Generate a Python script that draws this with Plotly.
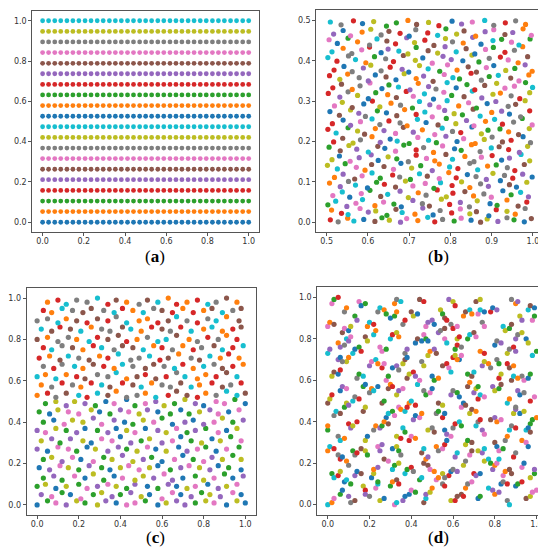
import plotly.graph_objects as go

TAB10 = ['#1f77b4', '#ff7f0e', '#2ca02c', '#d62728', '#9467bd',
         '#8c564b', '#e377c2', '#7f7f7f', '#bcbd22', '#17becf']

# (a) regular grid: column positions and row heights
a_x = [0.000, 0.029, 0.059, 0.088, 0.118, 0.147, 0.176, 0.206, 0.235, 0.265, 0.294, 0.324,
       0.353, 0.382, 0.412, 0.441, 0.471, 0.500, 0.529, 0.559, 0.588, 0.618, 0.647, 0.676,
       0.706, 0.735, 0.765, 0.794, 0.824, 0.853, 0.882, 0.912, 0.941, 0.971, 1.000]
a_y = [0.000, 0.053, 0.105, 0.158, 0.211, 0.263, 0.316, 0.368, 0.421, 0.474,
       0.526, 0.579, 0.632, 0.684, 0.737, 0.789, 0.842, 0.895, 0.947, 1.000]

# (b) scattered points in [0.5, 1] x [0, 0.5]
b_x = [
    .509, .528, .551, .566, .590, .617, .634, .652, .679, .694, .721, .745, .762, .781, .809, .826, .850, .873, .889, .915, .937, .954, .979, .996,
    .512, .536, .552, .581, .601, .619, .646, .668, .683, .714, .733, .758, .775, .803, .824, .847, .863, .893, .911, .937, .957, .981,
    .503, .522, .549, .571, .587, .617, .638, .663, .681, .709, .732, .749, .778, .798, .824, .846, .865, .896, .913, .937, .964, .985,
    .515, .538, .556, .584, .605, .631, .648, .678, .698, .722, .741, .768, .790, .806, .835, .856, .881, .899, .927, .947, .970, .989,
    .507, .533, .553, .570, .599, .621, .640, .667, .691, .709, .739, .760, .776, .804, .827, .847, .873, .892, .921, .943, .960, .985,
    .519, .540, .568, .586, .610, .630, .660, .677, .703, .725, .744, .773, .796, .814, .841, .862, .887, .903, .931, .951, .975, .998,
    .502, .526, .545, .572, .593, .609, .639, .662, .680, .706, .728, .756, .773, .798, .818, .847, .866, .890, .911, .938, .956, .979,
    .513, .531, .557, .579, .608, .625, .649, .670, .698, .717, .742, .762, .789, .805, .835, .857, .875, .901, .924, .943, .971, .992,
    .506, .533, .554, .573, .601, .624, .641, .667, .687, .717, .735, .759, .781, .810, .826, .851, .872, .899, .918, .941, .967, .987,
    .517, .539, .564, .582, .610, .630, .654, .671, .700, .721, .747, .766, .789, .816, .832, .860, .882, .901, .926, .947, .976, .994,
    .503, .523, .552, .575, .592, .618, .639, .667, .686, .710, .732, .762, .780, .805, .825, .852, .875, .891, .920, .941, .965, .991,
    .514, .540, .558, .582, .610, .629, .651, .678, .695, .720, .741, .770, .790, .813, .839, .857, .885, .907, .926, .953, .974, .998,
    .508, .531, .558, .578, .594, .623, .645, .670, .689, .717, .738, .756, .786, .809, .829, .855, .872, .900, .924, .943, .970, .992,
    .519, .538, .562, .590, .611, .629, .656, .679, .708, .725, .750, .772, .792, .820, .844, .863, .889, .910, .940, .958, .981,
    .504, .532, .552, .575, .601, .619, .648, .669, .693, .710, .737, .759, .784, .803, .833, .853, .876, .903, .921, .947, .968, .992,
    .515, .536, .562, .581, .605, .634, .651, .674, .702, .722, .747, .765, .792, .814, .840, .859, .883, .912, .932, .955, .982, .999,
    .507, .532, .551, .579, .601, .618, .644, .668, .688, .717, .735, .758, .785, .806, .822, .850, .875, .894, .916, .946, .966, .990,
    .518, .542, .562, .589, .607, .632, .654, .683, .699, .725, .746, .774, .793, .816, .843, .863, .887, .905, .934, .956, .981, .998,
    .503, .525, .553, .570, .595, .616, .643, .662, .686, .715, .733, .756, .782, .802, .830, .852, .869, .894, .921, .940, .964, .987,
    .513, .540, .561, .585, .604, .632, .649, .675, .697, .717, .746, .769, .787, .814, .838, .859, .885, .904, .932, .955, .975,
    .506, .526, .552, .575, .604, .622, .646, .667, .694, .713, .738, .760, .788, .805, .831, .854, .874, .903, .924, .948, .966, .993,
    .517, .540, .558, .586, .607, .632, .651, .678, .700, .716, .745, .769, .789, .815, .833, .861, .884, .905, .932, .951, .976, .996,
    .509, .535, .565, .587, .614, .645, .669, .697, .718, .747, .772, .804, .827, .853, .883, .905, .933, .958, .982,
]
b_y = [
    .006, .001, .010, .003, .007, .002, .011, .005, .000, .009, .004, .012, .001, .007, .003, .010, .005, .000, .008, .002, .011, .006, .001, .009,
    .030, .022, .019, .034, .025, .028, .017, .032, .024, .020, .035, .018, .029, .023, .033, .021, .026, .016, .031, .027, .020, .034,
    .043, .052, .039, .047, .056, .041, .050, .045, .038, .054, .046, .040, .057, .044, .049, .038, .053, .046, .042, .055, .040, .050,
    .066, .075, .062, .071, .079, .064, .069, .077, .061, .073, .067, .080, .063, .072, .076, .065, .070, .062, .078, .068, .074, .063,
    .097, .088, .101, .092, .085, .099, .094, .087, .102, .090, .096, .084, .098, .091, .100, .086, .095, .089, .103, .093, .087, .099,
    .111, .119, .107, .115, .122, .109, .117, .112, .106, .120, .114, .108, .123, .110, .118, .113, .106, .121, .116, .109, .119, .112,
    .141, .132, .145, .136, .129, .143, .138, .131, .146, .134, .140, .128, .144, .137, .133, .146, .130, .139, .142, .135, .128, .143,
    .155, .164, .151, .160, .167, .153, .162, .157, .150, .166, .158, .152, .168, .156, .163, .150, .161, .165, .154, .159, .168, .152,
    .186, .177, .190, .181, .174, .188, .183, .176, .191, .179, .185, .173, .189, .182, .178, .192, .175, .184, .187, .180, .173, .188,
    .199, .208, .196, .204, .212, .198, .206, .201, .195, .210, .203, .197, .213, .200, .207, .195, .205, .211, .199, .203, .212, .197,
    .230, .221, .234, .226, .218, .232, .227, .220, .235, .223, .229, .217, .233, .225, .222, .236, .219, .228, .231, .224, .217, .232,
    .244, .253, .240, .249, .256, .242, .251, .246, .239, .255, .247, .241, .257, .244, .252, .239, .250, .255, .243, .248, .257, .241,
    .274, .265, .278, .270, .262, .276, .271, .264, .279, .267, .273, .261, .277, .269, .266, .280, .263, .272, .275, .268, .261, .276,
    .288, .297, .284, .293, .300, .286, .295, .290, .283, .299, .291, .285, .301, .288, .296, .283, .294, .299, .287, .292, .301,
    .319, .310, .323, .314, .306, .321, .316, .309, .324, .312, .318, .305, .322, .314, .311, .325, .308, .317, .320, .313, .306, .321,
    .333, .342, .329, .338, .345, .331, .340, .335, .328, .344, .336, .330, .346, .333, .341, .328, .339, .344, .332, .337, .346, .334,
    .363, .354, .367, .358, .350, .365, .360, .353, .368, .356, .362, .349, .366, .358, .355, .369, .352, .361, .364, .357, .350, .365,
    .377, .386, .373, .382, .389, .375, .384, .379, .372, .388, .380, .374, .390, .377, .385, .372, .383, .388, .376, .381, .390, .374,
    .408, .399, .412, .403, .395, .410, .405, .398, .413, .401, .407, .394, .411, .403, .400, .414, .397, .406, .409, .402, .395, .410,
    .422, .431, .418, .427, .434, .420, .429, .424, .417, .433, .425, .419, .435, .422, .430, .417, .428, .433, .421, .426, .435,
    .452, .443, .456, .447, .439, .454, .449, .442, .457, .445, .451, .438, .455, .447, .444, .458, .441, .450, .453, .446, .439, .454,
    .466, .475, .462, .471, .478, .464, .473, .468, .461, .477, .469, .463, .479, .466, .474, .461, .472, .477, .465, .470, .479, .463,
    .496, .489, .499, .492, .497, .486, .494, .500, .490, .495, .487, .498, .491, .496, .500, .488, .494, .499, .490,
]
b_colors = ("3719052846 1937260584 7205139648 2591407368 5038172946 9162047583 4780215369 0625948173 "
            "8351760294 1479023586 6293817405 0814569237 2956130748 7340892615 5608241937 9127358064 "
            "4082736159 1763049825 8495062371 6021795348 3587140926 9240618753 0739285146 5416973082 2158304697")

# (c) lower half (even colours) and upper half (odd colours)
c_lo_x = [
    .00, .05, .09, .14, .19, .23, .29, .33, .38, .43, .47, .52, .58, .62, .67, .71, .76, .81, .85, .91, .96, 1.0,
    .02, .07, .12, .16, .21, .27, .31, .36, .40, .45, .50, .54, .60, .65, .69, .74, .79, .83, .88, .94, .98,
    .00, .04, .09, .14, .20, .24, .29, .34, .38, .43, .47, .53, .58, .63, .67, .72, .76, .82, .87, .91, .96,
    .03, .08, .12, .18, .23, .27, .32, .37, .41, .47, .51, .56, .61, .65, .70, .76, .80, .85, .90, .94, .99,
    .01, .06, .11, .15, .20, .25, .31, .35, .40, .44, .49, .54, .58, .64, .69, .73, .78, .83, .87, .92, .98,
    .03, .07, .12, .17, .21, .27, .32, .36, .41, .46, .51, .55, .60, .66, .70, .75, .80, .84, .89, .94, .98,
    .00, .05, .10, .15, .19, .24, .28, .34, .39, .43, .48, .53, .57, .62, .68, .72, .77, .81, .86, .91, .97,
    .02, .07, .11, .16, .22, .26, .31, .36, .40, .45, .50, .54, .60, .65, .69, .74, .79, .84, .88, .93, .98,
    .00, .04, .09, .14, .19, .23, .29, .34, .38, .43, .47, .52, .58, .62, .67, .72, .76, .81, .87, .91, .96,
    .03, .08, .13, .17, .22, .27, .31, .37, .42, .46, .51, .56, .60, .65, .71, .75, .80, .85, .89, .94, .99,
    .01, .06, .10, .15, .20, .26, .30, .35, .40, .44, .49, .53, .58, .64, .69, .73, .78, .83, .87, .92, .97,
    .04, .09, .14, .18, .23, .28, .33, .37, .43, .47, .52, .57, .61, .66, .71, .76, .80, .86, .90, .95, 1.0,
]
c_lo_y = [
    .00, .02, .01, .00, .02, .01, .00, .02, .01, .00, .01, .02, .00, .01, .02, .00, .01, .02, .01, .00, .02, .01,
    .05, .04, .06, .05, .03, .05, .06, .04, .05, .06, .04, .05, .03, .06, .05, .04, .06, .05, .04, .06, .05,
    .09, .10, .08, .09, .10, .08, .09, .10, .09, .08, .10, .09, .08, .10, .09, .08, .09, .10, .08, .09, .10,
    .13, .14, .12, .14, .13, .15, .12, .14, .13, .12, .14, .13, .15, .12, .13, .14, .12, .13, .15, .13, .14,
    .18, .17, .19, .18, .17, .19, .18, .17, .18, .19, .17, .18, .19, .17, .18, .19, .18, .17, .19, .18, .17,
    .22, .23, .21, .23, .22, .21, .23, .22, .24, .21, .22, .23, .21, .22, .24, .22, .21, .23, .22, .24, .22,
    .27, .26, .28, .27, .26, .28, .27, .26, .28, .27, .26, .28, .27, .26, .28, .26, .27, .28, .26, .27, .28,
    .31, .32, .30, .32, .31, .30, .32, .31, .33, .30, .31, .32, .30, .31, .33, .31, .30, .32, .31, .33, .31,
    .36, .35, .37, .36, .35, .37, .36, .35, .37, .36, .35, .37, .36, .35, .37, .35, .36, .37, .35, .36, .37,
    .40, .41, .39, .41, .40, .42, .39, .41, .40, .39, .41, .40, .42, .39, .40, .41, .39, .40, .42, .40, .41,
    .45, .44, .46, .45, .44, .46, .45, .44, .46, .45, .44, .46, .45, .44, .46, .44, .45, .46, .44, .45, .46,
    .49, .50, .48, .50, .49, .48, .50, .49, .51, .48, .49, .50, .48, .49, .51, .49, .48, .50, .49, .51, .49,
]
c_hi_x = [
    .00, .05, .09, .14, .20, .24, .29, .34, .38, .43, .48, .52, .57, .63, .67, .72, .77, .81, .86, .91, .96, 1.0,
    .02, .07, .12, .17, .21, .26, .31, .35, .41, .46, .50, .55, .60, .64, .69, .74, .78, .84, .89, .93, .98,
    .00, .04, .09, .14, .19, .23, .29, .34, .38, .43, .48, .52, .57, .62, .67, .71, .77, .81, .86, .91, .96,
    .03, .08, .12, .18, .22, .27, .32, .37, .41, .46, .52, .56, .61, .66, .70, .75, .80, .85, .89, .94, .99,
    .01, .06, .11, .15, .20, .25, .30, .34, .39, .45, .49, .54, .59, .63, .68, .74, .78, .83, .88, .92, .97,
    .03, .07, .12, .17, .22, .27, .31, .37, .41, .46, .51, .56, .60, .65, .70, .75, .79, .85, .89, .94, .99,
    .00, .05, .10, .15, .19, .25, .29, .34, .39, .43, .48, .53, .58, .62, .67, .73, .77, .82, .87, .91, .96,
    .02, .07, .11, .16, .21, .26, .31, .35, .41, .45, .50, .55, .60, .64, .69, .74, .80, .84, .89, .94, .98,
    .00, .05, .10, .14, .19, .24, .29, .34, .38, .43, .49, .53, .58, .63, .67, .72, .77, .82, .86, .91, .97,
    .03, .07, .12, .17, .22, .26, .32, .37, .41, .46, .51, .56, .60, .65, .70, .75, .80, .84, .89, .94, .98,
    .05, .10, .14, .19, .24, .29, .34, .38, .43, .49, .53, .58, .63, .67, .72, .77, .82, .86, .91, .96,
]
c_hi_y = [
    .53, .54, .52, .54, .53, .52, .54, .53, .55, .52, .53, .54, .52, .53, .55, .53, .52, .54, .53, .55, .53, .54,
    .58, .57, .59, .58, .57, .59, .58, .57, .59, .58, .57, .59, .58, .57, .59, .57, .58, .59, .57, .58, .59,
    .62, .63, .61, .63, .62, .61, .63, .62, .64, .61, .62, .63, .61, .62, .64, .62, .61, .63, .62, .64, .62,
    .67, .66, .68, .67, .66, .68, .67, .66, .68, .67, .66, .68, .67, .66, .68, .66, .67, .68, .66, .67, .68,
    .71, .72, .70, .72, .71, .70, .72, .71, .73, .70, .71, .72, .70, .71, .73, .71, .70, .72, .71, .73, .71,
    .76, .75, .77, .76, .75, .77, .76, .75, .77, .76, .75, .77, .76, .75, .77, .75, .76, .77, .75, .76, .77,
    .80, .81, .79, .81, .80, .79, .81, .80, .82, .79, .80, .81, .79, .80, .82, .80, .79, .81, .80, .82, .80,
    .85, .84, .86, .85, .84, .86, .85, .84, .86, .85, .84, .86, .85, .84, .86, .84, .85, .86, .84, .85, .86,
    .89, .90, .88, .90, .89, .88, .90, .89, .91, .88, .89, .90, .88, .89, .91, .89, .88, .90, .89, .91, .89,
    .94, .93, .95, .94, .93, .95, .94, .93, .95, .94, .93, .95, .94, .93, .95, .93, .94, .95, .93, .94, .95,
    .98, .99, .97, .99, .98, 1.0, .97, .99, .98, .97, .99, .98, 1.0, .97, .98, .99, .97, .98, 1.0, .98,
]
c_lo_colors = ("0264828406 6208442860 8046206284 2480660428 4602808264 6824024086 "
               "0486242608 2068846402 8620404682 4208668024 6840202846 0628484206")
c_hi_colors = ("1375939517 7193553179 9517371395 3591775913 5739191357 7915353791 "
               "1359737915 3197557931 9753131597 5139779351 7591313975 1397559137")

# (d) clumped points, small chains
d_x = [
    .00, .02, .03, .06, .07, .10, .11, .13, .17, .18, .18, .20, .25, .27, .30, .31, .33, .34, .32, .33, .39, .40, .42,
    .46, .47, .47, .49, .50, .55, .56, .59, .61, .62, .66, .67, .69, .72, .73, .77, .79, .80, .82, .86, .87, .90, .91, .93, .95, .97, .98, 1.0,
    .02, .03, .05, .06, .09, .10, .13, .14, .16, .21, .22, .22, .24, .27, .29, .37, .38, .40, .41, .44, .45, .48, .49, .51,
    .58, .59, .60, .62, .65, .66, .70, .71, .73, .75, .77, .78, .84, .85, .87, .88, .93, .94, .97, .99, .99,
    .00, .01, .03, .05, .06, .08, .12, .13, .14, .16, .18, .19, .24, .25, .26, .31, .33, .34, .35, .39, .40, .42, .45, .46,
    .52, .53, .55, .56, .57, .61, .62, .66, .67, .69, .72, .74, .75, .80, .81, .82, .84, .89, .90, .93, .95, .96,
    .00, .00, .03, .04, .06, .10, .11, .12, .14, .17, .18, .22, .23, .25, .28, .29, .31, .32, .36, .37, .41, .42, .44, .45,
    .48, .50, .51, .55, .56, .60, .61, .63, .64, .68, .69, .71, .74, .75, .78, .80, .81, .83, .87, .88, .90, .92, .94, .97, .98, 1.0,
    .00, .01, .02, .06, .07, .09, .12, .13, .15, .20, .21, .22, .24, .26, .27, .33, .34, .36, .39, .40, .42, .46, .47, .49, .50,
    .53, .55, .59, .60, .62, .63, .67, .68, .72, .73, .75, .79, .80, .82, .83, .86, .87, .91, .92, .94, .97, .99,
    .02, .03, .05, .06, .09, .10, .14, .15, .17, .20, .21, .23, .24, .28, .29, .31, .33, .34, .38, .39, .41, .42, .45, .46,
    .50, .51, .53, .55, .57, .58, .59, .63, .64, .67, .69, .70, .74, .75, .77, .78, .82, .83, .86, .87, .89, .93, .94, .96, .97,
    .00, .01, .05, .06, .08, .12, .13, .15, .16, .18, .19, .25, .26, .28, .30, .31, .33, .34, .37, .38, .42, .43, .45,
    .48, .49, .51, .52, .56, .57, .61, .62, .64, .67, .68, .70, .71, .73, .75, .80, .81, .83, .86, .87, .89, .90, .95, .96, .98, 1.0,
    .00, .01, .03, .07, .08, .10, .11, .13, .14, .19, .20, .22, .24, .25, .27, .28, .36, .37, .40, .41, .43,
    .47, .48, .50, .51, .54, .55, .59, .60, .62, .65, .66, .68, .69, .74, .75, .78, .79, .81, .84, .85, .87, .88, .92, .93,
    .96, .97, .99, .02, .03, .05, .08, .09, .15, .16, .18, .32, .33, .35, .44, .46, .58, .60, .61, .71, .73, .88, .90, .91,
    .08, .09, .11, .23, .24, .24, .36, .37, .52, .53, .55, .56, .64, .65, .83, .84, .86, .31, .32, .34, .46, .47, .48,
    .68, .69, .79, .80, .81, .82, .05, .06, .07, .18, .19, .26, .27, .29, .33, .35, .56, .57, .59, .71, .72, .73, .85, .86,
    .95, .96, .97, .08, .09, .10, .34, .35, .37, .38, .52, .53, .64, .65, .66, .89, .90, .90, .17, .18, .29, .30, .31, .43, .44,
    .70, .71, .72, .88, .89, .91, .05, .06, .07, .26, .27, .36, .37, .38, .60, .61, .62, .81, .82, .09, .10, .11, .22, .23,
    .46, .47, .48, .53, .54, .56, .62, .63, .90, .91, .93, .30, .32, .33, .56, .57, .72, .73, .75, .98, .99,
]
d_y = [
    .00, .01, .03, .05, .07, .04, .01, .02, .09, .07, .05, .04, .02, .03, .09, .11, .12, .10, .00, .01, .05, .07, .06,
    .01, .03, .05, .06, .08, .10, .09, .02, .02, .04, .08, .10, .11, .03, .04, .08, .07, .05, .06, .02, .00, .09, .10, .11, .03, .04, .06, .07,
    .15, .13, .14, .16, .21, .19, .14, .16, .15, .13, .15, .17, .18, .22, .21, .15, .17, .18, .16, .12, .13, .19, .17, .16,
    .14, .16, .17, .16, .19, .21, .15, .14, .15, .21, .22, .20, .14, .16, .17, .15, .18, .20, .13, .15, .17,
    .26, .28, .27, .33, .31, .32, .26, .24, .25, .27, .31, .33, .28, .26, .29, .27, .28, .26, .24, .31, .33, .32, .25, .27,
    .28, .26, .27, .29, .31, .23, .25, .29, .31, .30, .26, .25, .27, .30, .28, .26, .27, .23, .25, .31, .30, .28,
    .36, .38, .43, .45, .44, .39, .37, .38, .40, .45, .47, .36, .38, .37, .42, .44, .45, .43, .37, .35, .41, .43, .42, .44,
    .36, .37, .35, .42, .44, .37, .39, .40, .38, .44, .46, .45, .36, .34, .41, .42, .40, .41, .36, .38, .37, .44, .45, .39, .41, .42,
    .49, .51, .53, .55, .57, .56, .50, .52, .51, .54, .56, .55, .57, .49, .50, .53, .55, .56, .49, .50, .48, .55, .53, .54, .56,
    .49, .48, .53, .55, .54, .52, .57, .59, .51, .53, .52, .57, .55, .56, .58, .49, .51, .55, .53, .54, .50, .52,
    .62, .64, .63, .65, .69, .71, .61, .63, .62, .67, .69, .70, .68, .60, .62, .66, .67, .65, .61, .63, .64, .62, .69, .67,
    .62, .60, .61, .67, .68, .66, .64, .70, .72, .63, .62, .64, .67, .69, .68, .66, .61, .63, .68, .66, .67, .62, .60, .61, .63,
    .73, .75, .78, .76, .77, .73, .75, .76, .74, .81, .79, .76, .74, .75, .80, .82, .83, .81, .73, .75, .78, .80, .79,
    .72, .74, .75, .73, .80, .78, .75, .77, .76, .80, .82, .83, .81, .74, .73, .77, .79, .78, .73, .75, .76, .74, .80, .78, .72, .74,
    .86, .88, .87, .83, .85, .84, .86, .91, .89, .86, .88, .87, .93, .95, .94, .92, .87, .89, .93, .91, .92,
    .86, .88, .89, .87, .94, .92, .87, .85, .86, .91, .93, .94, .92, .88, .86, .93, .95, .94, .86, .84, .85, .87, .91, .89,
    .94, .96, .95, .97, .99, 1.0, .93, .95, .98, .96, .97, .97, .99, .98, .99, .98, .99, .98, .96, .98, .99, .99, .97, .98,
    .11, .12, .10, .08, .10, .11, .02, .04, .12, .13, .15, .13, .05, .04, .10, .11, .10, .17, .19, .20, .20, .22, .23,
    .24, .26, .17, .19, .20, .22, .24, .22, .23, .26, .24, .38, .40, .39, .33, .32, .36, .34, .33, .38, .40, .41, .31, .33,
    .36, .37, .35, .47, .49, .48, .47, .46, .45, .47, .44, .45, .47, .49, .48, .44, .46, .47, .57, .58, .56, .58, .57, .58, .60,
    .54, .56, .57, .60, .62, .61, .70, .71, .69, .66, .68, .68, .70, .71, .71, .72, .70, .70, .68, .80, .79, .81, .82, .84,
    .82, .80, .79, .83, .84, .85, .80, .81, .80, .82, .83, .90, .91, .93, .90, .89, .92, .94, .93, .89, .91,
]
d_colors = ("9162047583 4780215369 0625948173 8351760294 1479023586 6293817405 0814569237 2956130748 "
            "7340892615 5608241937 9127358064 4082736159 1763049825 8495062371 6021795348 3587140926 "
            "9240618753 0739285146 5416973082 2158304697 3719052846 1937260584 7205139648 2591407368 5038172946")

labels = ['(<b>a</b>)', '(<b>b</b>)', '(<b>c</b>)', '(<b>d</b>)']


def pick(codes, n):
    s = codes.replace(' ', '')
    return [TAB10[int(s[i % len(s)])] for i in range(n)]


fig = go.Figure()

# panel (a): one colour per row
ax, ay, ac = [], [], []
for j, yv in enumerate(a_y):
    for xv in a_x:
        ax.append(xv)
        ay.append(yv)
        ac.append(TAB10[j % 10])
fig.add_trace(go.Scatter(x=ax, y=ay, mode='markers', xaxis='x', yaxis='y',
                         marker=dict(size=4.8, color=ac, line_width=0)))

fig.add_trace(go.Scatter(x=b_x, y=b_y, mode='markers', xaxis='x2', yaxis='y2',
                         marker=dict(size=5.2, color=pick(b_colors, len(b_x)), line_width=0)))

fig.add_trace(go.Scatter(x=c_lo_x, y=c_lo_y, mode='markers', xaxis='x3', yaxis='y3',
                         marker=dict(size=5.2, color=pick(c_lo_colors, len(c_lo_x)), line_width=0)))
fig.add_trace(go.Scatter(x=c_hi_x, y=c_hi_y, mode='markers', xaxis='x3', yaxis='y3',
                         marker=dict(size=5.2, color=pick(c_hi_colors, len(c_hi_x)), line_width=0)))

fig.add_trace(go.Scatter(x=d_x, y=d_y, mode='markers', xaxis='x4', yaxis='y4',
                         marker=dict(size=5.2, color=pick(d_colors, len(d_x)), line_width=0)))

axis_style = dict(showgrid=False, zeroline=False, showline=True, mirror=True,
                  linecolor='#555', linewidth=1, ticks='outside', ticklen=3,
                  tickwidth=1, tickcolor='#555', tickformat='.1f',
                  tickfont=dict(family='DejaVu Sans', size=8, color='#333'))

W, H = 546, 550
panels = {
    # frame in pixels: left, right, top, bottom ; data ranges ; tick steps
    '': (24.3, 251.0, 2.7, 224.3, [-0.05, 1.05], [-0.05, 1.05], 0.2, 0.2, 0.0, 0.0),
    '2': (308.3, 535.3, 2.3, 224.3, [0.475, 1.025], [-0.025, 0.525], 0.1, 0.1, 0.5, 0.0),
    '3': (18.7, 247.7, 279.7, 507.3, [-0.05, 1.05], [-0.05, 1.05], 0.2, 0.2, 0.0, 0.0),
    '4': (309.3, 539.0, 279.0, 507.0, [-0.05, 1.05], [-0.05, 1.05], 0.2, 0.2, 0.0, 0.0),
}
layout = dict(width=W, height=H, margin=dict(l=0, r=0, t=0, b=0),
              paper_bgcolor='white', plot_bgcolor='white', showlegend=False)
for k, (l, r, t, b, xr, yr, dx, dy, x0, y0) in panels.items():
    layout['xaxis' + k] = dict(axis_style, domain=[l / W, r / W], range=xr,
                               anchor='y' + k, dtick=dx, tick0=x0, ticklabelstandoff=-2)
    layout['yaxis' + k] = dict(axis_style, domain=[1 - b / H, 1 - t / H], range=yr,
                               anchor='x' + k, dtick=dy, tick0=y0)
fig.update_layout(**layout)

label_pos = [(147, 248), (430, 248), (147, 529), (430, 529)]
for text, (px, py) in zip(labels, label_pos):
    fig.add_annotation(x=px / W, y=1 - py / H, xref='paper', yref='paper', text=text,
                       showarrow=False, xanchor='center', yanchor='middle',
                       font=dict(family='Liberation Serif', size=17, color='black'))

fig.write_html('out.html')
